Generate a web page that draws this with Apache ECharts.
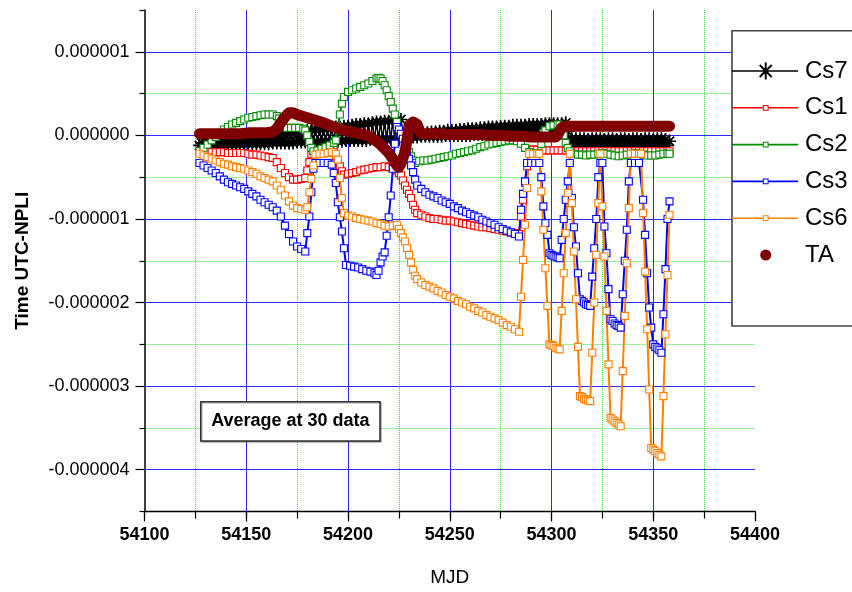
<!DOCTYPE html>
<html>
<head>
<meta charset="utf-8">
<style>html,body{margin:0;padding:0;background:#fff}#chart{width:852px;height:592px}</style>
<script src="https://cdn.jsdelivr.net/npm/echarts@6/dist/echarts.min.js"></script>
</head>
<body>
<div id="chart"></div>
<script>
// values in microseconds (axis labels convert to seconds)
const xTicks = [54100, 54150, 54200, 54250, 54300, 54350, 54400];
const yTicks = [-4, -3, -2, -1, 0, 1];
const seriesNames = ['Cs7', 'Cs1', 'Cs2', 'Cs3', 'Cs6', 'TA'];

// Cs7: daily values (alternating low / high, forming the thick black band), three segments
const cs7Start1 = 54127;
const cs7Seg1 = [
-0.12,-0.09,-0.12,-0.08,-0.12,-0.08,-0.12,-0.07,-0.11,-0.07,-0.11,-0.06,-0.11,-0.06,-0.11,-0.05,
-0.11,-0.04,-0.11,-0.04,-0.11,-0.03,-0.10,-0.03,-0.10,-0.02,-0.10,-0.02,-0.10,-0.01,-0.10,-0.01,
-0.10,0.00,-0.10,0.01,-0.09,0.01,-0.09,0.02,-0.09,0.02,-0.09,0.03,-0.09,0.03,-0.09,0.04,
-0.08,0.04,-0.08,0.05,-0.08,0.06,-0.08,0.06,-0.08,0.07,-0.08,0.07,-0.07,0.08,-0.07,0.08,
-0.07,0.09,-0.07,0.10,-0.07,0.10,-0.07,0.11,-0.06,0.11,-0.06,0.12,-0.06,0.13,-0.06,0.13,
-0.06,0.14,-0.06,0.14,-0.05,0.15,-0.05,0.16,-0.05,0.16,-0.05,0.17,-0.05,0.17,-0.05,0.18,
-0.05,0.18,-0.05,0.19,0.02
];
const cs7Start2 = 54228;
const cs7Seg2 = [
-0.02,0.01,-0.02,0.01,-0.02,0.02,-0.02,0.02,-0.01,0.03,-0.01,0.03,-0.01,0.04,-0.01,0.04,
-0.01,0.05,-0.01,0.05,0.00,0.06,0.00,0.06,0.00,0.06,0.00,0.07,0.00,0.07,0.00,0.08,
0.00,0.08,0.01,0.08,0.01,0.09,0.01,0.09,0.01,0.10,0.01,0.10,0.01,0.10,0.01,0.11,
0.02,0.11,0.02,0.11,0.02,0.12,0.02,0.12,0.02,0.12,0.02,0.12,0.02,0.13,0.02,0.13,
0.03,0.13,0.03,0.13,0.03,0.14,0.03,0.14,0.03,0.14,0.03,0.14,0.03,0.14,0.03,0.15,
0.05
];
const cs7Start3 = 54309;
const cs7Seg3 = [
-0.08,-0.04,-0.11,-0.04,-0.12,-0.04,-0.13,-0.04,-0.13,-0.05,-0.13,-0.04,-0.13,-0.04,-0.14,-0.04,
-0.13,-0.05,-0.13,-0.04,-0.13,-0.04,-0.14,-0.05,-0.13,-0.04,-0.13,-0.04,-0.13,-0.05,-0.14,-0.04,
-0.13,-0.04,-0.13,-0.05,-0.13,-0.04,-0.14,-0.04,-0.13,-0.05,-0.13,-0.04,-0.13,-0.04,-0.13,-0.05,
-0.12,-0.07
];

const cs1 = [
[54127,-0.19],[54129,-0.19],[54131,-0.19],[54133,-0.20],[54135,-0.20],[54137,-0.20],[54139,-0.20],[54141,-0.21],
[54143,-0.21],[54145,-0.21],[54147,-0.21],[54149,-0.21],[54151,-0.22],[54153,-0.23],[54155,-0.23],[54157,-0.24],
[54159,-0.25],[54161,-0.26],[54163,-0.27],[54165,-0.32],[54167,-0.39],[54169,-0.45],[54171,-0.50],[54173,-0.53],
[54175,-0.53],[54177,-0.52],[54179,-0.51],[54180,-0.42],[54181,-0.32],[54182,-0.22],[54183,-0.19],[54185,-0.18],
[54187,-0.18],[54189,-0.17],[54191,-0.17],[54193,-0.20],[54194,-0.25],[54195,-0.31],[54196,-0.37],[54197,-0.43],
[54198,-0.47],[54200,-0.46],[54202,-0.45],[54204,-0.44],[54206,-0.42],[54208,-0.41],[54210,-0.40],[54212,-0.39],
[54214,-0.38],[54216,-0.38],[54218,-0.37],[54220,-0.38],[54222,-0.39],[54224,-0.42],[54225,-0.45],[54226,-0.48],
[54227,-0.54],[54228,-0.60],[54229,-0.65],[54230,-0.70],[54231,-0.75],[54232,-0.83],[54233,-0.89],[54234,-0.93],
[54236,-0.95],[54238,-0.97],[54240,-0.99],[54242,-1.00],[54244,-1.00],[54246,-1.01],[54248,-1.02],[54250,-1.02],
[54252,-1.03],[54254,-1.04],[54256,-1.05],[54258,-1.06],[54260,-1.07],[54262,-1.08],[54264,-1.09],[54266,-1.10],
[54268,-1.10],[54270,-1.11],[54272,-1.12],[54274,-1.13],[54276,-1.14],[54278,-1.15],[54280,-1.16],[54282,-1.17],
[54284,-1.18],[54285,-0.97],[54286,-0.77],[54287,-0.57],[54288,-0.37],[54289,-0.17],[54291,-0.17],[54293,-0.17],
[54295,-0.18],[54297,-0.18],[54299,-0.18],[54301,-0.18],[54303,-0.18],[54305,-0.18],[54307,-0.18],[54309,-0.19],
[54311,-0.19],[54313,-0.19],[54315,-0.19],[54317,-0.19],[54319,-0.19],[54321,-0.19],[54323,-0.19],[54325,-0.19],
[54327,-0.19],[54329,-0.19],[54331,-0.19],[54333,-0.19],[54335,-0.19],[54337,-0.19],[54339,-0.19],[54341,-0.19],
[54343,-0.19],[54345,-0.19],[54347,-0.19],[54349,-0.19],[54351,-0.19],[54353,-0.19],[54355,-0.19],[54357,-0.19],
[54358,-0.19]
];

const cs2 = [
[54127,-0.19],[54129,-0.15],[54131,-0.11],[54133,-0.06],[54135,-0.02],[54137,0.03],[54139,0.07],[54141,0.10],
[54143,0.13],[54145,0.15],[54147,0.17],[54149,0.19],[54151,0.21],[54153,0.22],[54155,0.23],[54157,0.24],
[54159,0.25],[54161,0.25],[54163,0.25],[54165,0.23],[54166,0.20],[54167,0.15],[54168,0.11],[54170,0.09],
[54172,0.09],[54174,0.09],[54176,0.09],[54178,0.08],[54179,0.06],[54180,0.00],[54181,-0.08],[54182,-0.15],
[54183,-0.19],[54185,-0.18],[54187,-0.16],[54189,-0.14],[54191,-0.12],[54193,-0.09],[54194,-0.06],[54195,0.11],
[54196,0.25],[54197,0.38],[54198,0.46],[54200,0.52],[54202,0.54],[54204,0.56],[54206,0.58],[54208,0.60],
[54210,0.62],[54212,0.65],[54214,0.68],[54215,0.69],[54216,0.68],[54217,0.65],[54218,0.60],[54219,0.54],
[54220,0.47],[54221,0.40],[54222,0.32],[54223,0.25],[54224,0.16],[54225,0.08],[54226,0.01],[54227,-0.04],
[54228,-0.09],[54229,-0.14],[54230,-0.20],[54231,-0.25],[54232,-0.30],[54233,-0.33],[54235,-0.31],[54237,-0.30],
[54239,-0.30],[54241,-0.29],[54243,-0.28],[54245,-0.27],[54247,-0.26],[54249,-0.25],[54251,-0.24],[54253,-0.22],
[54255,-0.21],[54257,-0.20],[54259,-0.19],[54261,-0.18],[54263,-0.16],[54265,-0.14],[54267,-0.13],[54269,-0.11],
[54271,-0.10],[54273,-0.09],[54275,-0.08],[54277,-0.07],[54279,-0.06],[54281,-0.06],[54283,-0.07],[54285,-0.10],
[54287,-0.15],[54289,-0.20],[54291,-0.22],[54293,-0.21],[54295,-0.10],[54296,0.03],[54297,0.06],[54299,0.11],
[54301,0.12],[54303,0.13],[54304,0.13],[54305,0.08],[54306,0.00],[54307,-0.09],[54308,-0.15],[54309,-0.19],
[54311,-0.22],[54313,-0.23],[54315,-0.23],[54317,-0.24],[54319,-0.23],[54321,-0.23],[54323,-0.22],[54325,-0.21],
[54327,-0.22],[54329,-0.23],[54331,-0.24],[54333,-0.25],[54335,-0.24],[54337,-0.23],[54339,-0.22],[54341,-0.21],
[54343,-0.22],[54345,-0.23],[54347,-0.24],[54349,-0.24],[54351,-0.24],[54353,-0.23],[54355,-0.22],[54357,-0.22],
[54358,-0.22]
];

const cs3 = [
[54127,-0.33],[54129,-0.36],[54131,-0.39],[54133,-0.42],[54135,-0.45],[54137,-0.49],[54139,-0.53],[54141,-0.56],
[54143,-0.58],[54145,-0.60],[54147,-0.62],[54149,-0.64],[54151,-0.67],[54153,-0.70],[54155,-0.73],[54157,-0.77],
[54159,-0.80],[54161,-0.83],[54163,-0.86],[54165,-0.90],[54167,-0.97],[54169,-1.08],[54171,-1.18],[54173,-1.27],
[54175,-1.33],[54177,-1.36],[54179,-1.39],[54180,-1.17],[54181,-0.97],[54182,-0.68],[54183,-0.40],[54184,-0.33],
[54186,-0.33],[54188,-0.33],[54190,-0.33],[54192,-0.35],[54193,-0.45],[54194,-0.57],[54195,-0.80],[54196,-0.98],
[54197,-1.15],[54198,-1.35],[54199,-1.55],[54201,-1.56],[54203,-1.57],[54205,-1.58],[54207,-1.60],[54209,-1.62],
[54211,-1.63],[54213,-1.65],[54214,-1.67],[54215,-1.62],[54216,-1.52],[54217,-1.45],[54218,-1.40],[54219,-1.20],
[54220,-0.98],[54221,-0.72],[54222,-0.40],[54223,-0.10],[54224,0.10],[54225,0.07],[54226,0.02],[54227,-0.04],
[54228,-0.12],[54229,-0.20],[54230,-0.28],[54231,-0.36],[54232,-0.44],[54233,-0.53],[54234,-0.60],[54236,-0.64],
[54238,-0.68],[54240,-0.71],[54242,-0.73],[54244,-0.75],[54246,-0.78],[54248,-0.80],[54250,-0.82],[54252,-0.85],
[54254,-0.87],[54256,-0.90],[54258,-0.92],[54260,-0.94],[54262,-0.96],[54264,-0.98],[54266,-1.01],[54268,-1.03],
[54270,-1.05],[54272,-1.07],[54274,-1.10],[54276,-1.12],[54278,-1.14],[54280,-1.16],[54282,-1.18],[54284,-1.21],
[54285,-0.89],[54286,-0.70],[54287,-0.55],[54288,-0.33],[54290,-0.33],[54292,-0.33],[54294,-0.33],[54295,-0.50],
[54296,-0.85],[54297,-1.05],[54298,-1.19],[54299,-1.41],[54300,-1.43],[54301,-1.44],[54302,-1.45],[54303,-1.46],
[54304,-1.47],[54305,-1.25],[54306,-1.00],[54307,-0.77],[54308,-0.55],[54309,-0.33],[54310,-0.75],[54311,-1.10],
[54312,-1.33],[54313,-1.65],[54314,-1.96],[54315,-1.98],[54316,-2.00],[54317,-2.02],[54318,-2.03],[54319,-2.04],
[54320,-1.69],[54321,-1.35],[54322,-1.00],[54323,-0.50],[54324,-0.33],[54325,-0.33],[54326,-1.09],[54327,-1.41],
[54328,-1.84],[54329,-2.20],[54330,-2.22],[54331,-2.25],[54332,-2.27],[54333,-2.28],[54334,-2.30],[54335,-1.90],
[54336,-1.50],[54337,-1.13],[54338,-0.55],[54339,-0.33],[54341,-0.33],[54343,-0.33],[54345,-0.77],[54346,-1.19],
[54347,-1.65],[54348,-2.06],[54349,-2.30],[54350,-2.50],[54351,-2.53],[54352,-2.55],[54353,-2.57],[54354,-2.60],
[54355,-2.14],[54356,-1.60],[54357,-1.00],[54358,-0.79]
];

const cs6 = [
[54127,-0.22],[54129,-0.24],[54131,-0.26],[54133,-0.28],[54135,-0.30],[54137,-0.32],[54139,-0.34],[54141,-0.35],
[54143,-0.37],[54145,-0.38],[54147,-0.39],[54149,-0.40],[54151,-0.42],[54153,-0.44],[54155,-0.46],[54157,-0.49],
[54159,-0.51],[54161,-0.53],[54163,-0.55],[54165,-0.60],[54167,-0.65],[54169,-0.72],[54171,-0.79],[54173,-0.84],
[54175,-0.87],[54177,-0.88],[54179,-0.89],[54180,-0.86],[54181,-0.68],[54182,-0.52],[54183,-0.36],[54184,-0.23],
[54186,-0.22],[54188,-0.22],[54190,-0.21],[54192,-0.20],[54194,-0.22],[54195,-0.29],[54196,-0.51],[54197,-0.75],
[54198,-0.93],[54200,-0.96],[54202,-0.97],[54204,-0.99],[54206,-1.00],[54208,-1.01],[54210,-1.02],[54212,-1.03],
[54214,-1.05],[54216,-1.06],[54218,-1.08],[54220,-1.09],[54222,-1.08],[54224,-1.07],[54225,-1.12],[54226,-1.17],
[54227,-1.22],[54228,-1.27],[54229,-1.35],[54230,-1.43],[54231,-1.52],[54232,-1.61],[54233,-1.68],[54234,-1.72],
[54236,-1.76],[54238,-1.79],[54240,-1.81],[54242,-1.83],[54244,-1.86],[54246,-1.88],[54248,-1.91],[54250,-1.93],
[54252,-1.95],[54254,-1.98],[54256,-2.00],[54258,-2.02],[54260,-2.05],[54262,-2.07],[54264,-2.10],[54266,-2.12],
[54268,-2.15],[54270,-2.17],[54272,-2.19],[54274,-2.21],[54276,-2.24],[54278,-2.27],[54280,-2.29],[54282,-2.32],
[54284,-2.35],[54285,-1.93],[54286,-1.49],[54287,-1.07],[54288,-0.63],[54289,-0.22],[54291,-0.22],[54293,-0.22],
[54294,-0.22],[54295,-0.67],[54296,-1.13],[54297,-1.59],[54298,-2.04],[54299,-2.50],[54300,-2.51],[54301,-2.52],
[54302,-2.54],[54303,-2.55],[54304,-2.56],[54305,-2.10],[54306,-1.65],[54307,-1.17],[54308,-0.69],[54309,-0.22],
[54310,-0.81],[54311,-1.39],[54312,-1.96],[54313,-2.53],[54314,-3.12],[54315,-3.13],[54316,-3.15],[54317,-3.16],
[54318,-3.17],[54319,-3.18],[54320,-2.60],[54321,-2.00],[54322,-1.43],[54323,-0.81],[54324,-0.22],[54325,-0.85],
[54326,-1.45],[54327,-2.10],[54328,-2.74],[54329,-3.38],[54330,-3.40],[54331,-3.42],[54332,-3.44],[54333,-3.46],
[54334,-3.48],[54335,-2.82],[54336,-2.16],[54337,-1.53],[54338,-0.87],[54339,-0.22],[54341,-0.22],[54343,-0.22],
[54344,-0.22],[54345,-0.93],[54346,-1.63],[54347,-2.32],[54348,-3.04],[54349,-3.74],[54350,-3.76],[54351,-3.78],
[54352,-3.80],[54353,-3.82],[54354,-3.84],[54355,-3.12],[54356,-2.38],[54357,-1.67],[54358,-0.95]
];

const ta = [
[54127,0.02],[54131,0.02],[54135,0.02],[54139,0.02],[54143,0.02],[54147,0.02],[54151,0.03],[54155,0.03],
[54159,0.03],[54163,0.04],[54165,0.08],[54167,0.15],[54169,0.22],[54171,0.27],[54173,0.27],[54176,0.24],
[54180,0.21],[54184,0.18],[54188,0.15],[54192,0.11],[54196,0.08],[54200,0.05],[54204,0.03],[54208,0.01],
[54211,-0.02],[54214,-0.07],[54216,-0.11],[54218,-0.16],[54220,-0.21],[54222,-0.28],[54224,-0.36],[54225,-0.38],
[54226,-0.34],[54227,-0.27],[54228,-0.20],[54229,-0.05],[54230,0.12],[54232,0.16],[54234,0.13],[54235,0.06],
[54236,0.02],[54240,0.02],[54245,0.02],[54250,0.01],[54255,0.01],[54260,0.01],[54265,0.01],[54270,0.00],
[54275,0.00],[54280,-0.01],[54285,-0.01],[54290,-0.02],[54295,-0.02],[54300,-0.02],[54302,-0.02],[54303,0.00],
[54304,0.05],[54305,0.09],[54306,0.11],[54310,0.11],[54315,0.11],[54320,0.11],[54325,0.11],[54330,0.11],
[54335,0.11],[54340,0.11],[54345,0.11],[54350,0.11],[54355,0.11],[54358,0.11]
];

// pair the daily Cs7 values with their MJD
function daily(start, vals){ return vals.map((v, i) => [start + i, v]); }
const cs7 = daily(cs7Start1, cs7Seg1).concat(daily(cs7Start2, cs7Seg2), daily(cs7Start3, cs7Seg3));

const colors = {Cs7:'#000000', Cs1:'#ff0000', Cs2:'#008a00', Cs3:'#0000ff', Cs6:'#ff8000', TA:'#800000'};
const FONT = 'Liberation Sans, Arial, sans-serif';
const GREEN = '#33dd33', BLUE = '#2a2aff';

// ---- legend icon paths (66 x 18 box) ----
const IW = 66, IH = 18, CX = 33.7, CY = 9;
function corners(){ return `M0,0 L0.01,0 L0,0.01 Z M${IW},${IH} L${IW-0.01},${IH} L${IW},${IH-0.01} Z `; }
function rcw(x1,y1,x2,y2){ return `M${x1},${y1} L${x2},${y1} L${x2},${y2} L${x1},${y2} Z `; }
function rccw(x1,y1,x2,y2){ return `M${x1},${y1} L${x1},${y2} L${x2},${y2} L${x2},${y1} Z `; }
function squareIcon(){
  const h = 0.8, s = 2.9, t = 1.0;
  return 'path://' + corners() + rcw(0,CY-h,CX-s,CY+h) + rcw(CX+s,CY-h,IW,CY+h) +
    rcw(CX-s,CY-s,CX+s,CY+s) + rccw(CX-s+t,CY-s+t,CX+s-t,CY+s-t);
}
function starIcon(){
  const h = 0.8, L = 8.5, w = 0.95;
  const a = L/Math.SQRT2, d = w/Math.SQRT2;
  let p = corners() + rcw(0,CY-h,IW,CY+h) + rcw(CX-w,CY-L,CX+w,CY+L);
  p += `M${CX-a+d},${CY-a-d} L${CX+a+d},${CY+a-d} L${CX+a-d},${CY+a+d} L${CX-a-d},${CY-a+d} Z `;
  p += `M${CX-a-d},${CY+a-d} L${CX+a-d},${CY-a-d} L${CX+a+d},${CY-a+d} L${CX-a+d},${CY+a+d} Z `;
  return 'path://' + p;
}
function circleIcon(){
  const r = 5.5;
  return 'path://' + corners() + `M${CX-r},${CY} A${r},${r} 0 1,1 ${CX+r},${CY} A${r},${r} 0 1,1 ${CX-r},${CY} Z`;
}
// plot star symbol (asterisk)
const starSymbol = (function(){
  const L = 10, w = 1.3, a = L/Math.SQRT2, d = w/Math.SQRT2;
  let p = `M-${w},-${L} L${w},-${L} L${w},${L} L-${w},${L} Z M-${L},-${w} L${L},-${w} L${L},${w} L-${L},${w} Z `;
  p += `M${-a+d},${-a-d} L${a+d},${a-d} L${a-d},${a+d} L${-a-d},${-a+d} Z `;
  p += `M${-a-d},${a-d} L${a-d},${-a-d} L${a+d},${-a+d} L${-a+d},${a+d} Z`;
  return 'path://' + p;
})();

function squareSeries(name, data){
  return {
    name, type:'line', data, showAllSymbol:true,
    symbol:'rect', symbolSize:7,
    itemStyle:{color:'#ffffff', borderColor:colors[name], borderWidth:1.1},
    lineStyle:{color:colors[name], width:2},
    emphasis:{disabled:true}, z:3
  };
}

const chart = echarts.init(document.getElementById('chart'), null, {renderer:'canvas'});
chart.setOption({
  animation:false,
  backgroundColor:'#ffffff',
  grid:{left:144.5, right:97, top:10, bottom:80.5, containLabel:false, outerBoundsMode:'none'},
  xAxis:[
    {type:'value', min:54100, max:54400, interval:25, position:'bottom', z:0,
     name:'MJD', nameLocation:'middle', nameGap:57,
     nameTextStyle:{fontFamily:FONT, fontSize:19, color:'#000'},
     axisLine:{show:true, onZero:false, lineStyle:{color:'#000', width:1.4}},
     axisTick:{show:true, length:7, lineStyle:{color:'#000', width:1.2}},
     axisLabel:{show:false},
     splitLine:{show:true, showMinLine:false, showMaxLine:false, lineStyle:{color:GREEN, type:'dotted', width:1}}},
    {type:'value', min:54100, max:54400, interval:50, position:'bottom', z:1,
     axisLine:{show:false, onZero:false},
     axisTick:{show:true, length:10, customValues:xTicks, lineStyle:{color:'#000', width:1.2}},
     axisLabel:{show:true, customValues:xTicks, margin:15, fontFamily:FONT, fontSize:18, fontWeight:'bold', color:'#000',
                formatter:v=>String(v)},
     splitLine:{show:true, showMinLine:false, showMaxLine:false, lineStyle:{color:BLUE, type:'solid', width:1}}}
  ],
  yAxis:[
    // minor grid: ticks counted from min (-4.5) every 1 -> the half-unit positions
    {type:'value', min:-4.5, max:1.5, interval:1, position:'left', z:0,
     name:'Time UTC-NPLI', nameLocation:'middle', nameGap:112,
     nameTextStyle:{fontFamily:FONT, fontSize:19, fontWeight:'bold', color:'#000'},
     axisLine:{show:true, onZero:false, lineStyle:{color:'#000', width:1.5}},
     axisTick:{show:true, length:5, lineStyle:{color:'#000', width:1.2}},
     axisLabel:{show:false},
     splitLine:{show:true, showMinLine:false, showMaxLine:false, lineStyle:{color:GREEN, type:'dotted', width:1}}},
    {type:'value', min:-4.5, max:1.5, position:'left', z:1,
     axisLine:{show:false, onZero:false},
     axisTick:{show:true, length:9, customValues:yTicks, lineStyle:{color:'#000', width:1.2}},
     axisLabel:{show:true, customValues:yTicks, margin:15, fontFamily:FONT, fontSize:18, color:'#000',
                formatter:v=>(v/1e6).toFixed(6)},
     splitLine:{show:false}}
  ],
  legend:{
    orient:'vertical', left:732, top:59, padding:0, itemGap:12.8,
    itemWidth:IW, itemHeight:IH, selectedMode:false, z:20,
    textStyle:{fontFamily:FONT, fontSize:24, color:'#000', lineHeight:24, padding:[0,0,0,2]},
    data:[
      {name:'Cs7', icon:starIcon(), itemStyle:{color:colors.Cs7, borderWidth:0}},
      {name:'Cs1', icon:squareIcon(), itemStyle:{color:colors.Cs1, borderWidth:0}},
      {name:'Cs2', icon:squareIcon(), itemStyle:{color:colors.Cs2, borderWidth:0}},
      {name:'Cs3', icon:squareIcon(), itemStyle:{color:colors.Cs3, borderWidth:0}},
      {name:'Cs6', icon:squareIcon(), itemStyle:{color:colors.Cs6, borderWidth:0}},
      {name:'TA', icon:circleIcon(), itemStyle:{color:colors.TA, borderWidth:0}}
    ]
  },
  graphic:[
    {type:'rect', z:15, shape:{x:732, y:30.7, width:140, height:295.3},
     style:{fill:'#ffffff', stroke:'#444', lineWidth:1.6}},
    {type:'rect', z:15, shape:{x:200.7, y:401.7, width:179.3, height:39.3},
     style:{fill:'#ffffff', stroke:'#333', lineWidth:1.5, shadowColor:'rgba(0,0,0,0.35)', shadowOffsetX:1, shadowOffsetY:1, shadowBlur:1}},
    {type:'text', z:16, x:290.4, y:421.5,
     style:{text:'Average at 30 data', fontFamily:FONT, fontSize:18, fontWeight:'bold', fill:'#000', align:'center', verticalAlign:'middle'}}
  ],
  series:[
    {name:'Cs7', type:'line', data:cs7, showAllSymbol:true, symbol:starSymbol, symbolSize:13,
     itemStyle:{color:colors.Cs7}, lineStyle:{color:colors.Cs7, width:1.5}, emphasis:{disabled:true}, z:2,
     // major horizontal grid lines (blue) at the labelled values
     markLine:{silent:true, z:1, symbol:['none','none'], animation:false,
               label:{show:false}, lineStyle:{color:BLUE, type:'solid', width:1},
               emphasis:{disabled:true},
               data:yTicks.map(v => ({yAxis:v}))}},
    squareSeries('Cs1', cs1),
    squareSeries('Cs2', cs2),
    squareSeries('Cs3', cs3),
    squareSeries('Cs6', cs6),
    {name:'TA', type:'line', data:ta, symbol:'none',
     itemStyle:{color:colors.TA},
     lineStyle:{color:colors.TA, width:11, cap:'round', join:'round'}, emphasis:{disabled:true}, z:4}
  ]
});
</script>
</body>
</html>
